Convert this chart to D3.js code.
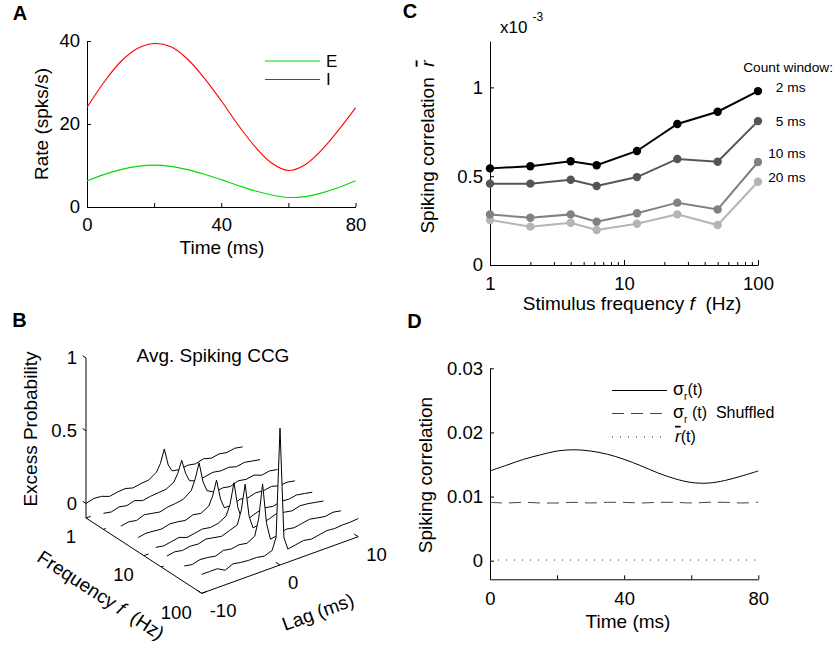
<!DOCTYPE html>
<html><head><meta charset="utf-8">
<script src="https://cdn.jsdelivr.net/npm/d3@7"></script>
<style>
body{margin:0;background:#fff}
svg text{font-family:"Liberation Sans",Arial,Helvetica,sans-serif;fill:#000}
</style></head>
<body><svg id="fig" width="833" height="649"></svg>
<script>
// ---------------- DATA ----------------
// Panel A: firing rates
const timeA = [0,5,10,15,20,25,30,35,40,45,50,55,60,65,70,75,80];
const rateI = [24,30,35,38.2,39.4,38.6,35.6,31,25.6,19.8,14.6,10.6,8.8,10.2,13.8,18.6,23.9];
const rateE = [6.3,7.8,9.0,9.8,10.1,9.8,9.0,7.9,6.6,5.2,3.9,2.9,2.3,2.5,3.4,4.7,6.3];

// Panel B: average spiking CCG (excess probability vs lag, per stimulus frequency)
const lagB = [-10,-9,-8,-7,-6,-5,-4,-3,-2,-1,-0.5,0,0.5,1,2,3,4,5,6,7,8,9,10];
const freqB = [1,2,4,8,16,25,50,100];
const ccgF1   = [0.00,0.015,0.01,-0.01,0.00,0.005,-0.01,0.00,0.005,0.04,0.09,0.18,0.06,0.01,0.00,0.01,0.00,0.015,0.00,0.01,0.00,0.01,0.00];
const ccgF2   = [0.01,0.00,0.015,0.005,0.02,0.00,0.01,0.015,0.02,0.05,0.10,0.18,0.08,0.02,0.00,0.01,0.02,0.01,0.015,0.00,0.01,0.00,-0.01];
const ccgF4   = [0.00,0.01,0.00,0.02,0.01,0.00,0.015,0.02,0.03,0.07,0.14,0.24,0.10,0.03,0.00,0.01,0.00,0.02,0.01,0.02,0.00,0.01,0.00];
const ccgF8   = [0.00,0.01,0.005,0.00,0.015,0.01,0.00,0.02,0.01,0.04,0.10,0.20,0.06,-0.01,-0.01,0.01,0.00,0.015,0.01,0.02,0.005,0.01,0.00];
const ccgF16  = [0.01,0.00,0.01,0.02,0.00,0.01,0.02,0.01,0.02,0.05,0.12,0.26,0.08,-0.01,-0.02,0.00,0.01,0.00,0.015,0.01,0.02,0.01,0.00];
const ccgF25  = [0.00,0.01,0.00,0.01,0.005,0.02,0.01,0.00,0.02,0.04,0.13,0.30,0.07,-0.02,-0.01,0.00,0.02,0.01,0.00,0.015,0.01,0.00,-0.01];
const ccgF50  = [0.01,0.00,0.015,0.01,0.00,0.02,0.01,0.02,0.01,0.04,0.15,0.38,0.10,-0.02,-0.01,0.01,0.00,0.01,0.02,0.01,0.00,0.01,0.00];
const ccgF100 = [0.03,0.03,0.03,0.00,0.025,0.015,0.01,0.01,0.00,0.02,0.10,0.84,0.08,-0.01,0.00,0.01,0.00,0.01,0.02,0.015,0.02,0.02,0.025];
const ccgB = [ccgF1,ccgF2,ccgF4,ccgF8,ccgF16,ccgF25,ccgF50,ccgF100];

// Panel C: mean spiking correlation (x10^-3) vs stimulus frequency
const freqC = [1,2,4,6.25,12.5,25,50,100];
const win2ms  = [0.544,0.556,0.584,0.562,0.642,0.794,0.863,0.979];
const win5ms  = [0.458,0.458,0.480,0.445,0.495,0.597,0.581,0.810];
const win10ms = [0.285,0.266,0.285,0.244,0.291,0.351,0.313,0.580];
const win20ms = [0.253,0.216,0.238,0.197,0.232,0.285,0.225,0.469];
const winLabels = ["2 ms","5 ms","10 ms","20 ms"];

// Panel D: spiking correlation vs time
const timeD = [0,5,10,15,20,25,30,35,40,45,50,55,60,65,70,75,80];
const sigmaR   = [0.0140,0.0149,0.0158,0.0165,0.0171,0.0173,0.0171,0.0166,0.0158,0.0148,0.0137,0.0128,0.0122,0.0121,0.0125,0.0132,0.0140];
const sigmaShf = [0.0091,0.0090,0.0091,0.0090,0.0090,0.0091,0.0090,0.0091,0.0091,0.0090,0.0091,0.0091,0.0090,0.0091,0.0091,0.0090,0.0091];
const rbarD    = [0.0001,0.0001,0.0001,0.0001,0.0001,0.0001,0.0001,0.0001,0.0001,0.0001,0.0001,0.0001,0.0001,0.0001,0.0001,0.0001,0.0001];

// ---------------- DRAW ----------------
const svg = d3.select("#fig");
const FS = 18.5;

function panelLetter(t,x,y){
  svg.append("text").attr("x",x).attr("y",y).attr("dy","0.35em").attr("text-anchor","middle")
    .attr("font-size",20).attr("font-weight","bold").text(t);
}
function styleAxis(g){
  g.attr("font-size",FS);
  g.selectAll(".domain").attr("stroke","#000");
  g.selectAll(".tick line").attr("stroke","#000");
  return g;
}
function centerText(x,y,rot){
  return svg.append("text").attr("transform",`translate(${x},${y}) rotate(${rot||0})`)
    .attr("text-anchor","middle").attr("dy","0.35em").attr("font-size",FS+0.5);
}

// ===== Panel A =====
panelLetter("A",20,13);
const xA = d3.scaleLinear([0,80],[87,355.5]);
const yA = d3.scaleLinear([0,40],[207,41]);
styleAxis(svg.append("g").attr("transform",`translate(0,${yA(0)})`)
  .call(d3.axisBottom(xA).tickValues([0,20,40,60,80]).tickFormat(d=>d%40===0?d:"")
  .tickSizeInner(-4).tickSizeOuter(0).tickPadding(11)));
styleAxis(svg.append("g").attr("transform",`translate(${xA(0)},0)`)
  .call(d3.axisLeft(yA).tickValues([0,20,40]).tickSizeInner(-4).tickSizeOuter(0).tickPadding(7)));
const lineA = d3.line().x((d,i)=>xA(timeA[i])).y(d=>yA(d)).curve(d3.curveCatmullRom);
svg.append("path").attr("d",lineA(rateI)).attr("fill","none").attr("stroke","#ff0000").attr("stroke-width",1.1);
svg.append("path").attr("d",lineA(rateE)).attr("fill","none").attr("stroke","#00dd00").attr("stroke-width",1.1);
[["E","#00dd00",61],["I","#ff0000",79.5]].forEach(([t,c,y])=>{
  svg.append("line").attr("x1",265).attr("x2",320).attr("y1",y).attr("y2",y).attr("stroke",c).attr("stroke-width",1.1);
  svg.append("text").attr("x",326).attr("y",y).attr("dy","0.35em").attr("font-size",17).text(t);
});
centerText(41,124,-90).text("Rate (spks/s)");
centerText(222,247,0).text("Time (ms)");

// ===== Panel B =====
panelLetter("B",19.5,320);
const O=[86,518], U=[156.6,-56.6], V=[115.7,75.3], H=160;
const lagS = d3.scaleLinear([-10,10],[0,1]);
const frS = d3.scaleLog([1,100],[0,1]);
const zS = d3.scaleLinear([-0.1,1],[0,1]);
const proj = (l,f,z)=>[O[0]+lagS(l)*U[0]+frS(f)*V[0], O[1]+lagS(l)*U[1]+frS(f)*V[1]-zS(z)*H];
const lineB = d3.line();
ccgB.forEach((vals,i)=>{
  const f = freqB[i];
  const pts = lagB.map((l,j)=>proj(l,f,vals[j]));
  const poly = pts.concat([proj(10,f,-0.1),proj(-10,f,-0.1)]);
  svg.append("path").attr("d",lineB(poly)+"Z").attr("fill","#fff").attr("stroke","none");
  svg.append("path").attr("d",lineB(pts)).attr("fill","none").attr("stroke","#000").attr("stroke-width",1);
});
const gB = svg.append("g").attr("stroke","#000").attr("stroke-width",1);
function seg(a,b){ gB.append("line").attr("x1",a[0]).attr("y1",a[1]).attr("x2",b[0]).attr("y2",b[1]); }
seg(proj(-10,1,-0.1),proj(-10,1,1));
seg(proj(-10,1,-0.1),proj(-10,100,-0.1));
seg(proj(-10,100,-0.1),proj(10,100,-0.1));
const vN = Math.hypot(V[0],V[1]), uN = Math.hypot(U[0],U[1]);
[0,0.5,1].forEach(z=>{
  const p = proj(-10,1,z);
  seg(p,[p[0]-4*V[0]/vN,p[1]-4*V[1]/vN]);
  svg.append("text").attr("x",p[0]-9).attr("y",p[1]).attr("dy","0.35em").attr("text-anchor","end")
    .attr("font-size",FS).text(z===0.5?"0.5":z);
});
[2,20].forEach(f=>{ const p=proj(-10,f,-0.1); seg(p,[p[0]+2.5*U[0]/uN,p[1]+2.5*U[1]/uN]); });
[1,10,100].forEach(f=>{
  const p = proj(-10,f,-0.1);
  seg(p,[p[0]+5*U[0]/uN,p[1]+5*U[1]/uN]);
  svg.append("text").attr("x",p[0]-10).attr("y",p[1]+19).attr("dy","0.35em").attr("text-anchor","end")
    .attr("font-size",FS).text(f);
});
[-10,0,10].forEach(l=>{
  const p = proj(l,100,-0.1);
  seg(p,[p[0]-5*V[0]/vN,p[1]-5*V[1]/vN]);
  svg.append("text").attr("x",p[0]+8).attr("y",p[1]+17.5).attr("dy","0.35em").attr("text-anchor","start")
    .attr("font-size",FS).text(l);
});
centerText(213,355,0).text("Avg. Spiking CCG");
centerText(30,429,-90).text("Excess Probability");
{
  const t = centerText(101,595,33);
  t.append("tspan").text("Frequency ");
  t.append("tspan").attr("font-style","italic").text("f");
  t.append("tspan").text("\u00a0 (Hz)");
}
centerText(318,612,-20).text("Lag (ms)");

// ===== Panel C =====
panelLetter("C",410,11);
const xC = d3.scaleLog([1,100],[490,758]);
const yC = d3.scaleLinear([0,1.26],[265,41.2]);
const cTicks = [1,2,3,4,5,6,7,8,9,10,20,30,40,50,60,70,80,90,100];
const gCx = styleAxis(svg.append("g").attr("transform",`translate(0,${yC(0)})`)
  .call(d3.axisBottom(xC).tickValues(cTicks).tickFormat(d=>[1,10,100].includes(d)?d:"")
  .tickSizeInner(-4).tickSizeOuter(0).tickPadding(12)));
gCx.selectAll(".tick line").attr("y2",d=>[1,10,100].includes(d)?-5:-3);
styleAxis(svg.append("g").attr("transform",`translate(${xC(1)},0)`)
  .call(d3.axisLeft(yC).tickValues([0,0.5,1]).tickFormat(d=>d===0.5?"0.5":d)
  .tickSizeInner(-4).tickSizeOuter(0).tickPadding(7)));
const cSeries = [win2ms,win5ms,win10ms,win20ms];
const cColors = ["#000000","#555555","#818181","#b5b5b5"];
const lineC = d3.line().x((d,i)=>xC(freqC[i])).y(d=>yC(d));
for(let k=cSeries.length-1;k>=0;k--){
  svg.append("path").attr("d",lineC(cSeries[k])).attr("fill","none").attr("stroke",cColors[k]).attr("stroke-width",2);
  svg.append("g").selectAll("circle").data(cSeries[k]).join("circle")
    .attr("cx",(d,i)=>xC(freqC[i])).attr("cy",d=>yC(d)).attr("r",4.2).attr("fill",cColors[k]);
}
svg.append("text").attr("x",833).attr("y",67.5).attr("dy","0.35em").attr("text-anchor","end")
  .attr("font-size",13.7).text("Count window:");
const cLabY = [87,121,153,177];
winLabels.forEach((t,k)=>{
  svg.append("text").attr("x",805.5).attr("y",cLabY[k]).attr("dy","0.35em").attr("text-anchor","end")
    .attr("font-size",13.7).text(t);
});
svg.append("text").attr("x",500).attr("y",33).attr("font-size",17).text("x10");
svg.append("text").attr("x",532.5).attr("y",21).attr("font-size",12).text("-3");
{
  const t = centerText(427,147,-90);
  t.append("tspan").text("Spiking correlation\u00a0\u00a0");
  t.append("tspan").attr("font-style","italic").attr("text-decoration","overline").text("r");
}
{
  const t = centerText(632,303,0);
  t.append("tspan").text("Stimulus frequency ");
  t.append("tspan").attr("font-style","italic").text("f");
  t.append("tspan").text("\u00a0 (Hz)");
}

// ===== Panel D =====
panelLetter("D",414.5,320.5);
const xD = d3.scaleLinear([0,80],[490,758.3]);
const yD = d3.scaleLinear([-0.0029,0.03],[579.3,368.3]);
styleAxis(svg.append("g").attr("transform",`translate(0,${yD.range()[0]})`)
  .call(d3.axisBottom(xD).tickValues([0,20,40,60,80]).tickFormat(d=>d%40===0?d:"")
  .tickSizeInner(-4).tickSizeOuter(0).tickPadding(13)));
styleAxis(svg.append("g").attr("transform",`translate(${xD(0)},0)`)
  .call(d3.axisLeft(yD).tickValues([0,0.01,0.02,0.03]).tickFormat(d=>d===0?"0":d3.format(".2f")(d))
  .tickSizeInner(-4).tickSizeOuter(0).tickPadding(7)));
const lineD = d3.line().x((d,i)=>xD(timeD[i])).y(d=>yD(d)).curve(d3.curveCatmullRom);
const dStyles = [
  {data:sigmaR,  color:"#000", dash:null},
  {data:sigmaShf,color:"#444", dash:"12,7"},
  {data:rbarD,   color:"#222", dash:"1,7"}
];
dStyles.forEach(s=>{
  svg.append("path").attr("d",lineD(s.data)).attr("fill","none").attr("stroke",s.color)
    .attr("stroke-width",1).attr("stroke-dasharray",s.dash);
});
const legY = [390.5,413.5,437];
dStyles.forEach((s,k)=>{
  svg.append("line").attr("x1",612).attr("x2",667).attr("y1",legY[k]).attr("y2",legY[k])
    .attr("stroke",s.color).attr("stroke-width",1).attr("stroke-dasharray",s.dash);
});
{
  const t = svg.append("text").attr("x",673).attr("y",legY[0]).attr("dy","0.3em").attr("font-size",16);
  t.append("tspan").attr("font-size",18).text("σ");
  t.append("tspan").attr("dy",5).attr("font-size",10).text("r");
  t.append("tspan").attr("dy",-5).text("(t)");
}
{
  const t = svg.append("text").attr("x",673).attr("y",legY[1]).attr("dy","0.3em").attr("font-size",16);
  t.append("tspan").attr("font-size",18).text("σ");
  t.append("tspan").attr("dy",5).attr("font-size",10).text("r");
  t.append("tspan").attr("dy",-5).text("\u00a0(t)\u00a0 Shuffled");
}
{
  const t = svg.append("text").attr("x",675).attr("y",legY[2]).attr("dy","0.3em").attr("font-size",16);
  t.append("tspan").attr("font-style","italic").attr("text-decoration","overline").attr("font-size",17).text("r");
  t.append("tspan").text("(t)");
}
centerText(425,475,-90).text("Spiking correlation");
centerText(628,621,0).text("Time (ms)");
</script>
</body></html>
